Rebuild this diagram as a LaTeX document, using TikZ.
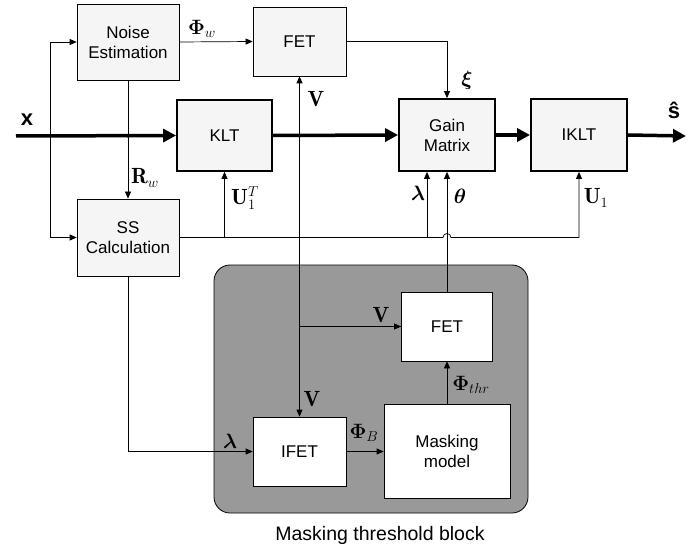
\documentclass[tikz,border=0pt]{standalone}
\usepackage{amsmath,amssymb}
\usepackage{bm}
\usepackage{fontspec}
\newfontfamily\arial{Liberation Sans}
\usetikzlibrary{arrows.meta,positioning,calc}

\begin{document}
\begin{tikzpicture}[x=1pt,y=-1pt,
    box/.style={draw,line width=0.7pt,fill=black!4,align=center,inner sep=0pt,
      font=\arial\fontsize{17}{20}\selectfont},
    tbox/.style={box,line width=1.8pt},
    wbox/.style={box,fill=white},
    lab/.style={font=\fontsize{22}{24}\selectfont,inner sep=1pt},
    plab/.style={font=\fontsize{20}{22}\selectfont,inner sep=1pt},
    sig/.style={line width=0.7pt,-{Triangle[length=7pt,width=6pt]}},
    main/.style={line width=3.5pt,-{Triangle[length=13pt,width=13pt]}}]
    \useasboundingbox (0,0) rectangle (696,548);

    % 掩蔽阈值块
    \node[draw,line width=0.8pt,fill=black!40,rounded corners=16pt,
      minimum width=314,minimum height=248] (mtb) at (371,389) {};
    \node[font=\arial\fontsize{19.5}{22}\selectfont] (mtbl) at (380,535) {Masking threshold block};

    % 方框
    \node[box,minimum width=102,minimum height=76] (ne) at (128,42) {Noise\\Estimation};
    \node[box,minimum width=93,minimum height=69] (fet1) at (299.5,41.5) {FET};
    \node[tbox,minimum width=95,minimum height=71] (klt) at (224.5,135.5) {KLT};
    \node[tbox,minimum width=96,minimum height=72] (gm) at (447,135) {Gain\\Matrix};
    \node[tbox,minimum width=96,minimum height=72] (iklt) at (579,135) {IKLT};
    \node[box,minimum width=102,minimum height=77] (ss) at (128,237.5) {SS\\Calculation};
    \node[wbox,minimum width=91,minimum height=69] (fet2) at (447,326.5) {FET};
    \node[wbox,minimum width=93,minimum height=69] (ifet) at (299.5,451.5) {IFET};
    \node[wbox,minimum width=126,minimum height=94] (mm) at (447,451) {Masking\\model};

    % 主信号通路
    \coordinate (in) at (16,136);
    \coordinate (out) at (686,136);
    \coordinate (fb) at (50,136);
    \draw[main] (in) -- (klt.west);
    \draw[main] (klt.east) -- (gm.west);
    \draw[main] (gm.east) -- (iklt.west);
    \draw[main] (iklt.east) -- (out);
    \fill (ne.south |- in) circle (1.8);
    \fill (fet1.south |- in) circle (1.8);

    % 反馈与控制信号
    \draw[sig] (fb) |- (ne.west);
    \draw[sig] (fb) |- (ss.west);
    \draw[sig] (ne.south) -- (ss.north);
    \draw[sig] (ne.east) -- (fet1.west);
    \draw[sig] (fet1.east) -| (gm.north);
    \draw[sig] (fet1.south |- in) -- (fet1.south);
    \draw[sig] (fet1.south |- in) -- (ifet.north);
    \draw[sig] (ifet.north |- fet2.west) -- (fet2.west);
    \draw[sig] (ss.south) |- (ifet.west);
    \draw[sig] (ifet.east) -- (ifet.east -| mm.west);
    \draw[sig] (mm.north) -- (fet2.south);
    \draw[sig] (fet2.north) -- (gm.south);

    % 总线 (跨越 theta)
    \coordinate (lamb) at ($(gm.south)+(-20,0)$);
    \draw[sig] (ss.east) -- ($(gm.south |- ss.east)+(-4,0)$)
      arc[start angle=180,end angle=360,radius=4] -- (iklt.south |- ss.east) -- (iklt.south);
    \draw[sig] (klt.south |- ss.east) -- (klt.south);
    \draw[sig] (lamb |- ss.east) -- (lamb);

    % 标注
    \node[font=\arial\bfseries\fontsize{22}{24}\selectfont] (xl) at (27,120) {x};
    \node[font=\arial\bfseries\fontsize{22}{24}\selectfont] (sl) at (674,110) {\^{s}};
    \node[plab] (phw) at (202,29) {$\boldsymbol{\Phi}_w$};
    \node[lab] (xil) at (467,80) {$\boldsymbol{\xi}$};
    \node[lab] (v1) at (316,99) {$\mathbf{V}$};
    \node[lab] (rw) at (145,178) {$\mathbf{R}_w$};
    \node[lab] (u1t) at (245,198) {$\mathbf{U}_1^T$};
    \node[lab] (la1) at (418,193) {$\boldsymbol{\lambda}$};
    \node[lab] (th) at (460,196) {$\boldsymbol{\theta}$};
    \node[lab] (u1) at (596,198) {$\mathbf{U}_1$};
    \node[lab] (v2) at (381,315) {$\mathbf{V}$};
    \node[lab] (v3) at (312,399) {$\mathbf{V}$};
    \node[lab] (la2) at (230,441) {$\boldsymbol{\lambda}$};
    \node[plab] (phb) at (364,433) {$\boldsymbol{\Phi}_B$};
    \node[plab] (pht) at (471,385) {$\boldsymbol{\Phi}_{thr}$};
\end{tikzpicture}
\end{document}
